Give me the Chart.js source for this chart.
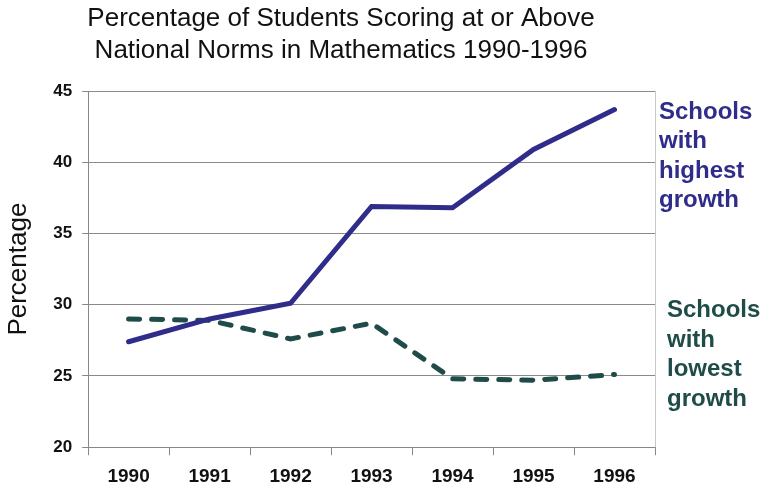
<!DOCTYPE html>
<html>
<head>
<meta charset="utf-8">
<script src="https://cdn.jsdelivr.net/npm/chart.js@4"></script>
<style>
  html, body { margin: 0; padding: 0; background: #fff; }
  #wrap { width: 764px; height: 491px; }
</style>
</head>
<body>
<div id="wrap"><canvas id="chart" width="764" height="491"></canvas></div>
<script>
const years = ['1990', '1991', '1992', '1993', '1994', '1995', '1996'];
const highestGrowth = [27.4, 29.0, 30.1, 36.9, 36.8, 40.9, 43.7];
const lowestGrowth = [29.0, 28.9, 27.6, 28.7, 24.8, 24.7, 25.1];
const yTicks = [20, 25, 30, 35, 40, 45];
const titleLines = ['Percentage of Students Scoring at or Above', 'National Norms in Mathematics 1990-1996'];

const blue = '#2f2c8a';
const teal = '#1f4c49';
const FONT = '"Liberation Sans", Arial, sans-serif';

// title, labels at the right of the plot + right border
const extras = {
  id: 'extras',
  afterDraw(chart) {
    const ctx = chart.ctx;
    const area = chart.chartArea;
    const y = chart.scales.y;
    ctx.save();
    ctx.strokeStyle = '#c8c8c8';
    ctx.lineWidth = 1;
    ctx.beginPath();
    ctx.moveTo(area.right + 0.5, area.top);
    ctx.lineTo(area.right + 0.5, area.bottom);
    ctx.stroke();

    ctx.fillStyle = '#111';
    ctx.font = '26px ' + FONT;
    ctx.textAlign = 'center';
    ctx.textBaseline = 'middle';
    titleLines.forEach((t, i) => ctx.fillText(t, 341, 19 + i * 32));

    ctx.font = 'bold 24px ' + FONT;
    ctx.textAlign = 'left';
    ctx.fillStyle = blue;
    let top = y.getPixelForValue(43.5);
    ['Schools', 'with', 'highest', 'growth'].forEach((t, i) => {
      ctx.fillText(t, area.right + 4, top + i * 29.5);
    });
    ctx.fillStyle = teal;
    top = y.getPixelForValue(29.6);
    ['Schools', 'with', 'lowest', 'growth'].forEach((t, i) => {
      ctx.fillText(t, area.right + 12, top + i * 29.5);
    });
    ctx.restore();
  }
};

const ctx = document.getElementById('chart').getContext('2d');
new Chart(ctx, {
  type: 'line',
  data: {
    labels: years,
    datasets: [{
      label: 'Schools with highest growth',
      data: highestGrowth,
      borderColor: blue,
      borderWidth: 5,
      pointRadius: 0,
      tension: 0,
      borderCapStyle: 'round'
    }, {
      label: 'Schools with lowest growth',
      data: lowestGrowth,
      borderColor: teal,
      borderWidth: 5,
      borderDash: [11, 12],
      borderCapStyle: 'round',
      pointRadius: 0,
      tension: 0
    }]
  },
  options: {
    responsive: false,
    animation: false,
    layout: {
      padding: { left: 0, right: 109, top: 91, bottom: -7 }
    },
    plugins: {
      legend: { display: false },
      tooltip: { enabled: false },
      title: { display: false }
    },
    scales: {
      x: {
        offset: true,
        grid: {
          offset: true,
          drawOnChartArea: false,
          color: '#888',
          tickLength: 8
        },
        border: { color: '#888' },
        ticks: {
          color: '#111',
          padding: 10,
          font: { family: FONT, size: 19, weight: 'bold' }
        }
      },
      y: {
        min: 20,
        max: 45,
        afterBuildTicks(axis) {
          axis.ticks = yTicks.map(v => ({ value: v }));
        },
        grid: {
          color: '#8a8a8a',
          tickLength: 6
        },
        border: { color: '#888' },
        ticks: {
          color: '#111',
          padding: 10,
          font: { family: FONT, size: 17, weight: 'bold' }
        },
        title: {
          display: true,
          text: 'Percentage',
          color: '#111',
          padding: { top: 3, bottom: 9 },
          font: { family: FONT, size: 26, weight: 'normal' }
        }
      }
    }
  },
  plugins: [extras]
});
</script>
</body>
</html>
